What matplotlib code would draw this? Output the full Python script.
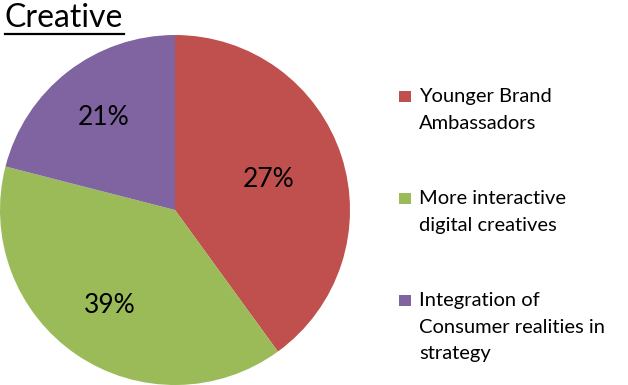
import numpy as np
import matplotlib.pyplot as plt
from matplotlib.patches import Rectangle

categories = ['Younger Brand\nAmbassadors', 'More interactive\ndigital creatives',
              'Integration of\nConsumer realities in\nstrategy']
shares = [40, 39, 21]
pct_labels = ['27%', '39%', '21%']
colors = ['#C0504D', '#9BBB59', '#8064A2']

plt.rcParams['font.family'] = ['Lato', 'DejaVu Sans']

W, H = 628, 385
fig = plt.figure(figsize=(W / 100, H / 100), dpi=100)
ax = fig.add_axes([0, 0, 350 / W, 350 / H])

wedges, _ = ax.pie(shares, colors=colors, startangle=90, counterclock=False,
                   wedgeprops=dict(linewidth=0))
ax.set_xlim(-1, 1)
ax.set_ylim(-1, 1)
ax.set_aspect('equal')

# percentage labels placed inside each wedge
label_r = [0.56, 0.66, 0.67]
for w, txt, r in zip(wedges, pct_labels, label_r):
    mid = np.deg2rad((w.theta1 + w.theta2) / 2)
    ax.text(r * np.cos(mid), r * np.sin(mid), txt, ha='center', va='center',
            fontsize=19, color='black')

# underlined title
fig.text(5 / W, 1 - 27 / H, 'Creative', fontsize=23, ha='left', va='baseline')
fig.add_artist(plt.Line2D([5 / W, 124 / W], [1 - 33.5 / H, 1 - 33.5 / H],
                          color='black', linewidth=1.6))

# legend: square marker next to the first line of each entry
for i, (lab, c) in enumerate(zip(categories, colors)):
    base = 102 + i * 102  # first-line baseline, px from top
    fig.add_artist(Rectangle((399 / W, 1 - base / H), 12 / W, 11 / H,
                             facecolor=c, edgecolor='none',
                             transform=fig.transFigure))
    fig.text(419 / W, 1 - (base - 14) / H, lab, fontsize=14.5, ha='left',
             va='top', linespacing=1.68)

fig.savefig('out.png', dpi=100)
